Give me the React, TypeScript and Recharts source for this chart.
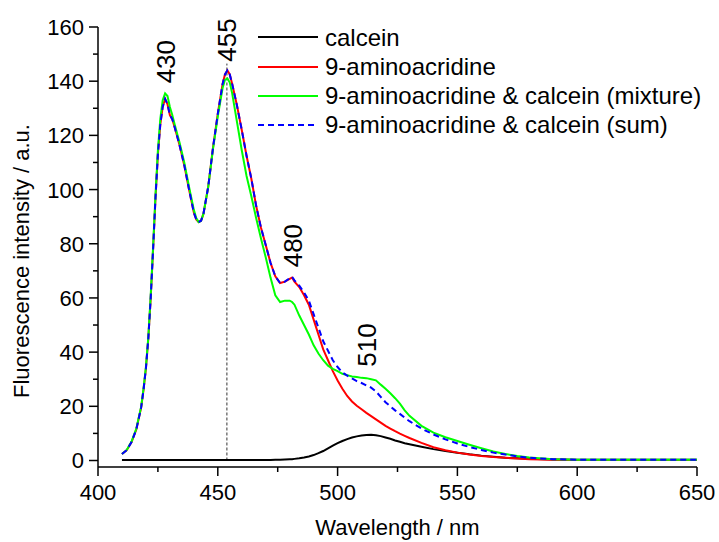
import React from 'react';
import { LineChart, Line, XAxis, YAxis, ReferenceLine, ReferenceDot, Legend } from 'recharts';

const wavelengths = [
  410, 412, 414, 416, 418, 419, 420, 421, 422, 423, 424, 425, 426, 427, 428, 429, 430, 431, 432, 434,
  436, 438, 440, 441, 442, 443, 444, 446, 448, 450, 452, 453, 454, 455, 456, 458, 460, 462, 464, 466,
  468, 470, 472, 474, 476, 478, 480, 481, 482, 484, 486, 488, 490, 492, 494, 496, 498, 500, 502, 504,
  506, 508, 510, 512, 514, 516, 518, 520, 522, 524, 526, 528, 530, 535, 540, 545, 550, 555, 560, 565,
  570, 575, 580, 590, 600, 610, 620, 630, 640, 650,
];

const calcein = [
  0.2, 0.2, 0.2, 0.2, 0.2, 0.2, 0.2, 0.2, 0.2, 0.2, 0.2, 0.2, 0.2, 0.2, 0.2, 0.2, 0.2, 0.2, 0.2, 0.2,
  0.2, 0.2, 0.2, 0.2, 0.2, 0.2, 0.2, 0.2, 0.2, 0.2, 0.2, 0.2, 0.2, 0.2, 0.2, 0.2, 0.2, 0.2, 0.2, 0.2,
  0.2, 0.2, 0.2, 0.3, 0.3, 0.4, 0.5, 0.5, 0.6, 0.8, 1.1, 1.5, 2.0, 2.7, 3.5, 4.5, 5.5, 6.4, 7.2, 7.9,
  8.5, 8.9, 9.2, 9.4, 9.5, 9.3, 9.0, 8.5, 8.0, 7.4, 6.9, 6.4, 6.0, 5.1, 4.2, 3.5, 2.9, 2.3, 1.8, 1.4,
  1.0, 0.8, 0.6, 0.4, 0.3, 0.3, 0.3, 0.3, 0.3, 0.3,
];

const aminoacridine = [
  2.4, 3.8, 6.8, 11.5, 19.5, 26, 34, 45, 60, 78, 97, 113, 124, 130.5, 133.5, 131.5, 127.5, 126, 123, 116.5,
  109, 100, 91.5, 89, 88, 88.5, 91, 101, 115.5, 128, 139, 142.5, 144, 142.5, 139, 131, 122, 112.5, 104, 94,
  86, 79.5, 73, 68, 65.5, 66, 67, 67.5, 66, 64, 61, 57.5, 52, 46.5, 41, 37, 33, 29.5, 26.5, 23.8,
  21.8, 20.2, 18.9, 17.6, 16.4, 15.2, 14, 12.8, 11.8, 10.8, 9.9, 9.1, 8.3, 6.5, 4.9, 3.8, 2.9, 2.2, 1.7, 1.3,
  1.0, 0.7, 0.5, 0.3, 0.2, 0.2, 0.2, 0.2, 0.2, 0.2,
];

const mixture = [
  2.4, 3.9, 7.0, 11.8, 19.8, 26.5, 34.5, 45.5, 61, 79, 98, 114.5, 126, 133, 135.5, 134.5, 130.5, 127.5, 124, 117.5,
  110, 101, 92.5, 89.5, 88, 88.5, 91, 101, 115, 127, 137.5, 140.5, 141, 139.5, 135.5, 125, 114.5, 105, 97.5, 89.5,
  82, 75, 67.5, 61, 58.5, 59, 59, 58.5, 57.5, 53.5, 50, 46.5, 42.5, 39.5, 37, 35, 33.8, 33, 32, 31.5,
  31, 30.8, 30.5, 30.4, 30, 29.6, 28, 26.5, 24.8, 23, 21, 18.5, 16.5, 12.8, 10.3, 8.6, 7.2, 5.8, 4.5, 3.3,
  2.4, 1.7, 1.1, 0.5, 0.3, 0.3, 0.3, 0.3, 0.3, 0.3,
];

const sum = [
  2.4, 3.8, 6.8, 11.5, 19.5, 26, 34, 45, 60, 78, 97, 113, 124, 130.5, 133.5, 131.5, 127.5, 126, 123, 116.5,
  109, 100, 91.5, 89, 88, 88.5, 91, 101, 115.5, 128, 139, 142.5, 144, 142.5, 139, 131, 122, 112.5, 104, 94,
  86, 79.5, 73, 68, 65.5, 66, 67.3, 67.8, 66.5, 64.5, 62, 59, 54, 49, 44, 40.5, 37, 34.5, 32.5, 31.3,
  30.3, 29.3, 28.6, 27.7, 26.9, 25.5, 23.5, 21.5, 20, 18.5, 17.2, 15.8, 14.5, 11.8, 9.6, 7.8, 6.3, 5.0, 3.9, 2.9,
  2.2, 1.5, 1.0, 0.5, 0.3, 0.3, 0.3, 0.3, 0.3, 0.3,
];

const seriesNames = [
  'calcein',
  '9-aminoacridine',
  '9-aminoacridine & calcein (mixture)',
  '9-aminoacridine & calcein (sum)',
];
const seriesKeys = ['calcein', 'aminoacridine', 'mixture', 'sum'];
const seriesColors = ['#000000', '#ff0000', '#00ff00', '#0000ff'];
const seriesDash = ['', '', '', '6 4'];

const xTicks = [400, 425, 450, 475, 500, 525, 550, 575, 600, 625, 650];
const yTicks = [0, 10, 20, 30, 40, 50, 60, 70, 80, 90, 100, 110, 120, 130, 140, 150, 160];

const peakLabels = ['430', '455', '480', '510'];
const peakLabelX = [432, 457.8, 485, 516.1];
const peakLabelY = [139.2, 147.2, 71.3, 34.6];

const markerWavelength = 453.8;
const markerTop = 146.5;

const data = wavelengths.map((wl, i) => ({
  wl,
  calcein: calcein[i],
  aminoacridine: aminoacridine[i],
  mixture: mixture[i],
  sum: sum[i],
}));

const FONT = "'Liberation Sans', Arial, Helvetica, sans-serif";

const XTick = (props: any) => {
  const { x, y, payload } = props;
  const v = payload.value;
  const major = v % 50 === 0;
  return (
    <g>
      <line x1={x} y1={y} x2={x} y2={y + (major ? 9 : 5)} stroke="#000" strokeWidth={1.5} />
      {major && (
        <text x={x} y={y + 33} textAnchor="middle" fontSize={22} fontFamily={FONT} fill="#000">
          {v}
        </text>
      )}
    </g>
  );
};

const YTick = (props: any) => {
  const { x, y, payload } = props;
  const v = payload.value;
  const major = v % 20 === 0;
  return (
    <g>
      <line x1={x - (major ? 9 : 5)} y1={y} x2={x} y2={y} stroke="#000" strokeWidth={1.5} />
      {major && (
        <text x={x - 14} y={y + 8} textAnchor="end" fontSize={22} fontFamily={FONT} fill="#000">
          {v}
        </text>
      )}
    </g>
  );
};

const renderLegend = () => (
  <div style={{ fontFamily: FONT, fontSize: 24, color: '#000' }}>
    {seriesNames.map((name, i) => (
      <div key={name} style={{ display: 'flex', alignItems: 'center', height: 29.3, lineHeight: '29.3px', whiteSpace: 'nowrap' }}>
        <svg width={60} height={6} style={{ display: 'block', marginRight: 7 }}>
          <line x1={0} y1={3} x2={60} y2={3} stroke={seriesColors[i]} strokeWidth={2} strokeDasharray={seriesDash[i] || undefined} />
        </svg>
        <span>{name}</span>
      </div>
    ))}
  </div>
);

export default function App() {
  return (
    <div style={{ position: 'absolute', left: 0, top: 0, width: 719, height: 542, background: '#fff' }}>
      <LineChart width={719} height={542} data={data} margin={{ top: 27, right: 22, bottom: 0, left: 0 }}>
        <XAxis
          dataKey="wl"
          type="number"
          domain={[400, 650]}
          ticks={xTicks}
          interval={0}
          tickSize={0}
          tickMargin={0}
          tickLine={false}
          tick={<XTick />}
          height={75}
          axisLine={{ stroke: '#000', strokeWidth: 1.5 }}
          label={{
            content: () => (
              <text x={397.5} y={535} textAnchor="middle" fontSize={22} fontFamily={FONT} fill="#000">
                Wavelength / nm
              </text>
            ),
          }}
        />
        <YAxis
          type="number"
          domain={[-2.4, 160]}
          ticks={yTicks}
          interval={0}
          tickSize={0}
          tickMargin={0}
          tickLine={false}
          tick={<YTick />}
          width={98}
          axisLine={{ stroke: '#000', strokeWidth: 1.5 }}
          label={{
            content: () => (
              <text x={28.5} y={261} transform="rotate(-90 28.5 261)" textAnchor="middle" fontSize={22} fontFamily={FONT} fill="#000">
                Fluorescence intensity / a.u.
              </text>
            ),
          }}
        />
        <ReferenceLine
          segment={[
            { x: markerWavelength, y: 0 },
            { x: markerWavelength, y: markerTop },
          ]}
          stroke="#333"
          strokeWidth={1}
          strokeDasharray="3 2"
        />
        {seriesKeys.map((k, i) => (
          <Line
            key={k}
            type="linear"
            dataKey={k}
            name={seriesNames[i]}
            stroke={seriesColors[i]}
            strokeWidth={2}
            strokeDasharray={seriesDash[i] || undefined}
            dot={false}
            activeDot={false}
            isAnimationActive={false}
          />
        ))}
        {peakLabels.map((lab, i) => (
          <ReferenceDot
            key={lab}
            x={peakLabelX[i]}
            y={peakLabelY[i]}
            r={0}
            shape={(p: any) => (
              <text
                x={p.cx}
                y={p.cy}
                transform={`rotate(-90 ${p.cx} ${p.cy})`}
                textAnchor="start"
                fontSize={26}
                fontFamily={FONT}
                fill="#000"
              >
                {lab}
              </text>
            )}
          />
        ))}
        <Legend
          layout="vertical"
          align="center"
          verticalAlign="middle"
          content={renderLegend}
          wrapperStyle={{ top: 22.6, left: 258, width: 460, height: 'auto' }}
        />
      </LineChart>
    </div>
  );
}
